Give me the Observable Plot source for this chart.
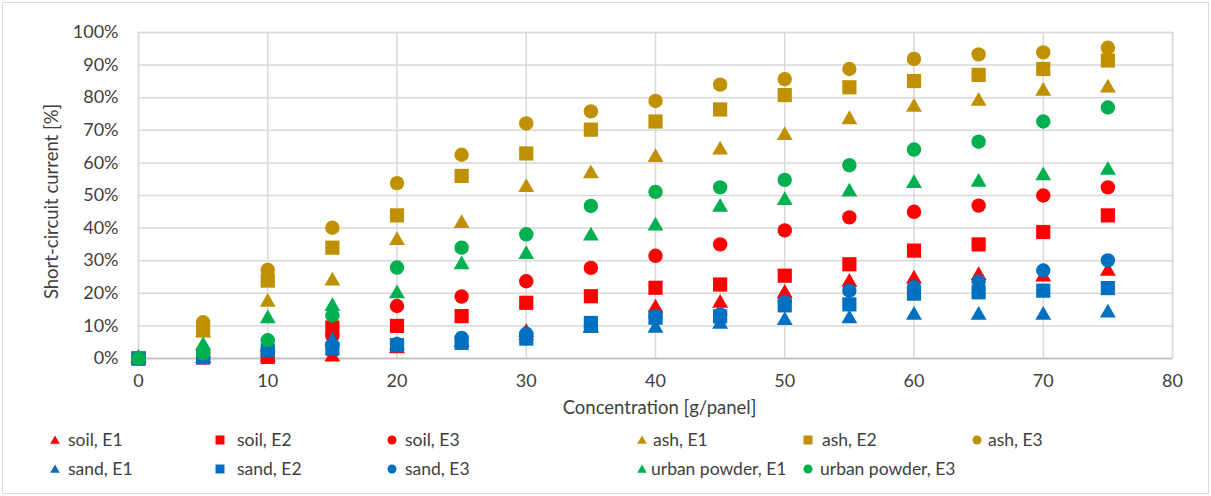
<!DOCTYPE html>
<html>
<head>
<meta charset="utf-8">
<script src="https://cdn.jsdelivr.net/npm/d3@7"></script>
<script src="https://cdn.jsdelivr.net/npm/@observablehq/plot@0.6"></script>
<style>
  html, body { margin: 0; padding: 0; background: #fff; }
  body { position: relative; width: 1211px; height: 496px; overflow: hidden; font-family: Lato, "Open Sans", sans-serif; }
  #chart { position: absolute; left: 0; top: 0; }
  #border { position: absolute; left: 2px; top: 2px; width: 1207px; height: 492px; box-sizing: border-box; border: 1.5px solid #d9d9d9; pointer-events: none; }
  .item { position: absolute; font-size: 17.5px; color: #404040; white-space: nowrap; line-height: 20px; }
  .sym { position: absolute; }
</style>
</head>
<body>
<div id="chart"></div>
<div id="legend"></div>
<div id="border"></div>
<script>
const concentration = [0, 5, 10, 15, 20, 25, 30, 35, 40, 45, 50, 55, 60, 65, 70, 75];

const soilE1  = [0, 0, 0.5, 0.5, 3, 5, 8, 9.5, 15.5, 17, 20, 23.4, 24.4, 25.5, 25, 26.8];
const soilE2  = [0, 0.3, 0.5, 9.5, 10, 13, 17.1, 19.1, 21.7, 22.7, 25.4, 28.9, 33.1, 35, 38.8, 43.9];
const soilE3  = [0, 0.5, 1, 7, 16.1, 19, 23.7, 27.8, 31.5, 35, 39.3, 43.3, 45, 46.9, 50, 52.5];
const ashE1   = [0, 8, 17.3, 23.8, 36.2, 41.4, 52.5, 56.7, 61.7, 64, 68.4, 73.3, 77.1, 78.9, 82, 83];
const ashE2   = [0, 8.6, 23.9, 34, 43.9, 56, 62.9, 70.2, 72.7, 76.4, 80.8, 83.2, 85.1, 87, 88.8, 91.4];
const ashE3   = [0, 11.1, 27.2, 40.1, 53.8, 62.5, 72.1, 75.8, 79, 84, 85.7, 88.8, 91.9, 93.3, 93.9, 95.3];
const sandE1  = [0, 0, 3.5, 5.5, 4, 5, 7, 9.2, 9.3, 10.5, 11.7, 12.2, 13.3, 13.3, 13.3, 14];
const sandE2  = [0, 0.4, 2.5, 3, 4.1, 4.8, 6.1, 10.9, 12.5, 12.9, 16.3, 16.6, 19.9, 20.3, 20.8, 21.6];
const sandE3  = [0, 0.3, 3, 4, 4.5, 6.3, 7.6, 10, 13, 13.5, 17.3, 20.8, 21.9, 23.6, 27, 30.1];
const urbanE1 = [0, 4, 12.2, 16, 19.9, 28.8, 31.9, 37.6, 40.7, 46.4, 48.5, 51.1, 53.7, 54.1, 56.1, 57.8];
const urbanE3 = [0, 1.6, 5.6, 13.2, 27.9, 34, 38.1, 46.8, 51.1, 52.5, 54.8, 59.3, 64.1, 66.5, 72.7, 77];

const seriesNames = ["soil, E1", "soil, E2", "soil, E3", "ash, E1", "ash, E2", "ash, E3",
                     "sand, E1", "sand, E2", "sand, E3", "urban powder, E1", "urban powder, E3"];
const seriesValues = [soilE1, soilE2, soilE3, ashE1, ashE2, ashE3, sandE1, sandE2, sandE3, urbanE1, urbanE3];
const seriesColors = ["#ff0000", "#ff0000", "#ff0000", "#bf9000", "#bf9000", "#bf9000",
                      "#0070c0", "#0070c0", "#0070c0", "#00b050", "#00b050"];
const seriesSymbols = ["triangle", "square", "circle", "triangle", "square", "circle",
                       "triangle", "square", "circle", "triangle", "circle"];

const xTicks = [0, 10, 20, 30, 40, 50, 60, 70, 80];
const yTicks = [0, 10, 20, 30, 40, 50, 60, 70, 80, 90, 100];
const xLabel = "Concentration [g/panel]";
const yLabel = "Short-circuit current [%]";

// marker radius per symbol so that the bounding boxes are about equal (~14px)
const symbolR = {circle: 7.2, square: 8.0, triangle: 5.9};

const dotMarks = seriesNames.map((name, i) => {
  const rows = concentration.map((c, j) => ({c, v: seriesValues[i][j], s: name}));
  return Plot.dot(rows, {x: "c", y: "v", symbol: seriesSymbols[i], r: symbolR[seriesSymbols[i]], fill: seriesColors[i], stroke: "none"});
});

const chart = Plot.plot({
  width: 1211,
  height: 420,
  marginLeft: 138,
  marginRight: 39,
  marginTop: 32,
  marginBottom: 62,
  style: {fontFamily: "Lato, 'Open Sans', sans-serif", fontSize: "18px", color: "#404040", background: "transparent", overflow: "visible"},
  x: {domain: [0, 80]},
  y: {domain: [0, 100]},
  marks: [
    Plot.gridX(xTicks, {stroke: "#d9d9d9", strokeOpacity: 1, strokeWidth: 1.5}),
    Plot.gridY(yTicks, {stroke: "#d9d9d9", strokeOpacity: 1, strokeWidth: 1.5}),
    Plot.frame({stroke: "#d9d9d9", strokeWidth: 1.5}),
    Plot.ruleY([0], {stroke: "#bfbfbf", strokeWidth: 1.5}),
    Plot.axisX({ticks: xTicks, tickSize: 0, tickPadding: 16, label: null, fill: "#404040"}),
    Plot.axisY({ticks: yTicks, tickSize: 0, tickPadding: 20, tickFormat: d => d + "%", label: null, fill: "#404040"}),
    Plot.text([xLabel], {frameAnchor: "bottom", textAnchor: "middle", dx: 4, dy: 55, fill: "#404040", fontSize: 18.5}),
    Plot.text([yLabel], {frameAnchor: "left", textAnchor: "middle", rotate: -90, dx: -86, dy: 6, fill: "#404040", fontSize: 18.5}),
    ...dotMarks
  ]
});
document.getElementById("chart").appendChild(chart);

// legend (below the SVG)
const legendPos = [
  {mx: 55, lx: 68, y: 440}, {mx: 220, lx: 237, y: 440}, {mx: 392, lx: 405, y: 440},
  {mx: 642, lx: 653, y: 440}, {mx: 808, lx: 822, y: 440}, {mx: 977, lx: 988, y: 440},
  {mx: 55, lx: 68, y: 469}, {mx: 220, lx: 237, y: 469}, {mx: 392, lx: 405, y: 469},
  {mx: 642, lx: 651, y: 469}, {mx: 808, lx: 820, y: 469}
];
const legend = document.getElementById("legend");
seriesNames.forEach((name, i) => {
  const p = legendPos[i];
  const sym = d3.create("svg").attr("class", "sym").attr("width", 12).attr("height", 12)
    .style("left", (p.mx - 6) + "px").style("top", (p.y - 6) + "px");
  const k = seriesSymbols[i];
  const size = k === "circle" ? Math.PI * 4.5 * 4.5 : k === "square" ? 81 : 40;
  const type = k === "circle" ? d3.symbolCircle : k === "square" ? d3.symbolSquare : d3.symbolTriangle;
  sym.append("path").attr("transform", k === "triangle" ? "translate(6,7)" : "translate(6,6)")
    .attr("d", d3.symbol(type, size)()).attr("fill", seriesColors[i]);
  legend.appendChild(sym.node());
  const t = document.createElement("div");
  t.className = "item";
  t.textContent = name;
  t.style.left = p.lx + "px";
  t.style.top = (p.y - 10) + "px";
  legend.appendChild(t);
});
</script>
</body>
</html>
